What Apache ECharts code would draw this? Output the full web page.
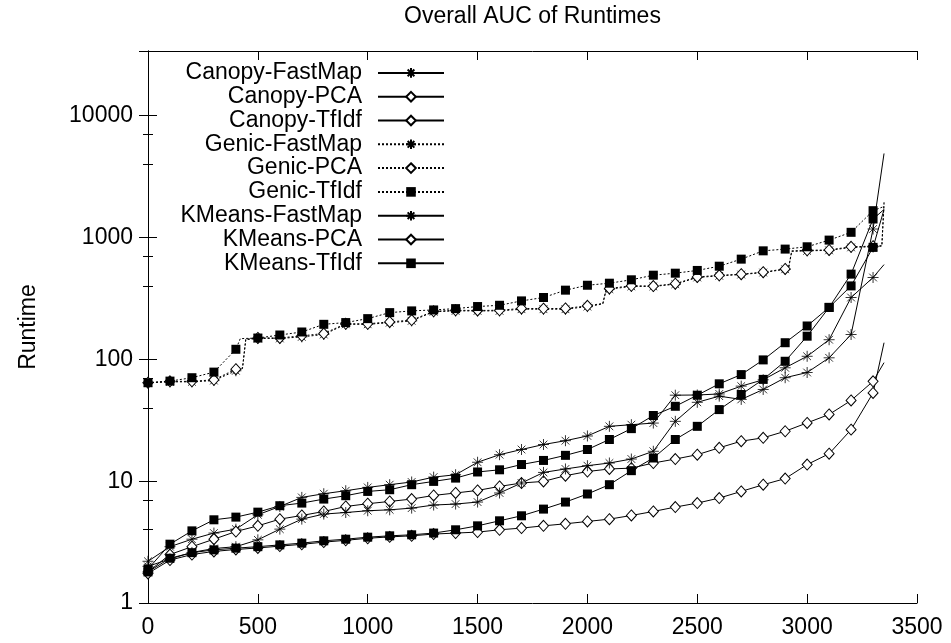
<!DOCTYPE html>
<html>
<head>
<meta charset="utf-8">
<script src="https://cdn.jsdelivr.net/npm/echarts@6/dist/echarts.min.js"></script>
<style>
  html, body { margin: 0; padding: 0; background: #fff; }
  #chart { width: 951px; height: 643px; }
</style>
</head>
<body>
<div id="chart"></div>
<script>
// sample positions: a marker every 100 runs, last entry is the end of the curve
const xs = [0, 100, 200, 300, 400, 500, 600, 700, 800, 900, 1000, 1100, 1200, 1300, 1400, 1500, 1600,
  1700, 1800, 1900, 2000, 2100, 2200, 2300, 2400, 2500, 2600, 2700, 2800, 2900, 3000, 3100, 3200, 3300, 3350]

const canopyFastMap = [2.2, 2.9, 3.34, 3.75, 4.04, 5.3, 6.2, 7.36, 7.89, 8.35, 8.89, 9.36, 9.85, 10.8, 11.3, 14.3, 16.5,
  18.2, 20, 21.5, 23.5, 28.2, 29.1, 30, 50.8, 51, 52, 60.3, 68, 85.3, 106, 145, 322, 470, 600]
const canopyPCA = [1.8, 2.5, 2.9, 3.34, 3.86, 4.3, 4.88, 5.23, 5.64, 6.2, 6.53, 6.82, 7.13, 7.64, 8.0, 8.4, 9.06,
  9.66, 9.96, 11.1, 12.0, 12.6, 12.8, 14.1, 15.2, 16.5, 18.8, 21.3, 22.7, 25.7, 30.1, 35.3, 46, 66, 94]
const canopyTfIdf = [1.9, 3.04, 3.91, 4.82, 5.07, 5.57, 6.29, 6.61, 7.13, 7.6, 8.24, 8.51, 9.36, 9.96, 10.6, 11.9, 12.4,
  13.7, 14.8, 16.3, 18.2, 22, 27, 34.6, 41.2, 50.8, 63, 75, 99, 137, 188, 267, 501, 1420, 1700]
const genicFastMap = [64.3, 65.4, 65.4, 67, 80.6, 148.5, 148.5, 153, 160, 194, 194, 200, 207, 246, 250, 250, 250,
  258, 258, 258, 271, 377, 397, 397, 414, 470, 485, 497, 516, 549, 778, 785, 830, 840, 1900]
const genicPCA = [64.3, 66, 66, 68, 83, 150, 150, 156, 163, 196, 196, 203, 210, 248, 253, 252, 253,
  262, 261, 262, 275, 382, 402, 400, 418, 475, 490, 500, 520, 553, 785, 792, 840, 850, 1950]
const genicTfIdf = [64.3, 66.3, 70.7, 78.6, 121, 149.7, 158.5, 167.8, 194, 200.5, 216, 242, 250, 254.6, 261, 271.5, 278,
  302, 322, 370, 406, 422, 450, 491, 510, 537, 582, 665, 778, 804, 840, 953, 1104, 1662, 1800]
const kmeansFastMap = [2.0, 2.3, 2.6, 2.8, 2.9, 3.3, 4.04, 4.88, 5.37, 5.53, 5.72, 5.82, 6.01, 6.37, 6.49, 6.74, 8.0,
  9.66, 11.8, 12.6, 13.4, 14.1, 15.2, 17.6, 31, 44.4, 49.9, 46.9, 56.6, 70.7, 78, 103, 160, 1175, 4900]
const kmeansPCA = [1.75, 2.25, 2.5, 2.65, 2.75, 2.83, 2.93, 3.03, 3.16, 3.27, 3.4, 3.49, 3.56, 3.68, 3.75, 3.82, 3.99,
  4.12, 4.3, 4.47, 4.67, 4.88, 5.23, 5.64, 6.13, 6.61, 7.27, 8.24, 9.35, 10.5, 13.7, 16.8, 26.5, 53, 137]
const kmeansTfIdf = [1.8, 2.33, 2.59, 2.73, 2.82, 2.9, 3.0, 3.1, 3.24, 3.34, 3.47, 3.56, 3.63, 3.75, 3.99, 4.3, 4.73,
  5.2, 5.9, 6.74, 7.85, 9.36, 12.2, 15.5, 22, 28.2, 38.7, 51.5, 68.5, 96.5, 155, 267, 401, 830, 1700]

// steps in the curves between two markers (no marker drawn there)
const genicSteps = [[430, 84], [445, 145], [2070, 285], [2085, 370], [2915, 555], [2930, 770], [3340, 850]]
const genicTfIdfSteps = [[420, 148]]

const FONT = '"Liberation Sans", Arial, Helvetica, sans-serif'
const STAR = 'path://M5 0L5 10M0 5L10 5M1.5 1.5L8.5 8.5M1.5 8.5L8.5 1.5'

const markers = {
  star: { symbol: STAR, symbolSize: 11, itemStyle: { color: '#000', borderColor: '#000', borderWidth: 0.8 } },
  diamond: { symbol: 'diamond', symbolSize: [10, 11], itemStyle: { color: '#fff', borderColor: '#000', borderWidth: 1 } },
  box: { symbol: 'rect', symbolSize: 9, itemStyle: { color: '#000', borderColor: '#000', borderWidth: 0 } }
}

function points (ys, extra) {
  let pts = xs.map((x, i) => [x, ys[i]]).concat(extra || [])
  pts.sort((a, b) => a[0] - b[0])
  return pts
}

// plotMarker lets a series show another symbol on the curve than in the key
function makeSeries (name, ys, marker, dotted, extra, plotMarker) {
  let m = markers[marker]
  let data = points(ys, extra).map(p => {
    let onMarker = p[0] % 100 === 0 && p[0] <= 3300
    if (!onMarker) return { value: p, symbol: 'none' }
    if (plotMarker) {
      let pm = markers[plotMarker]
      return { value: p, symbol: pm.symbol, symbolSize: pm.symbolSize, itemStyle: pm.itemStyle }
    }
    return { value: p }
  })
  return {
    name: name,
    type: 'line',
    data: data,
    symbol: m.symbol,
    symbolSize: m.symbolSize,
    showSymbol: true,
    itemStyle: m.itemStyle,
    lineStyle: { color: '#000', width: 1, type: dotted ? [2, 2] : 'solid' },
    emphasis: { disabled: true },
    z: 2
  }
}

const series = [
  makeSeries('Canopy-FastMap', canopyFastMap, 'star', false),
  makeSeries('Canopy-PCA', canopyPCA, 'diamond', false),
  makeSeries('Canopy-TfIdf', canopyTfIdf, 'diamond', false, null, 'box'),
  makeSeries('Genic-FastMap', genicFastMap, 'star', true, genicSteps),
  makeSeries('Genic-PCA', genicPCA, 'diamond', true, genicSteps.map(p => [p[0], p[1] * 1.01])),
  makeSeries('Genic-TfIdf', genicTfIdf, 'box', true, genicTfIdfSteps),
  makeSeries('KMeans-FastMap', kmeansFastMap, 'star', false),
  makeSeries('KMeans-PCA', kmeansPCA, 'diamond', false),
  makeSeries('KMeans-TfIdf', kmeansTfIdf, 'box', false)
]

const axisLine = { show: true, lineStyle: { color: '#000', width: 1 } }
const tickInside = { show: true, inside: true, length: 9, lineStyle: { color: '#000', width: 1 } }
const labelStyle = { color: '#000', fontSize: 23, fontFamily: FONT, formatter: v => String(Math.round(v)) }

let chart = echarts.init(document.getElementById('chart'))
chart.setOption({
  animation: false,
  backgroundColor: '#fff',
  textStyle: { fontFamily: FONT },
  title: {
    text: 'Overall AUC of Runtimes',
    left: 404,
    top: 5,
    padding: 0,
    textStyle: { fontSize: 23, fontWeight: 'normal', color: '#000', fontFamily: FONT }
  },
  legend: {
    orient: 'vertical',
    align: 'right',
    right: 506,
    top: 61,
    padding: 0,
    itemGap: 0,
    itemWidth: 66,
    itemHeight: 12,
    selectedMode: false,
    textStyle: { fontSize: 23, color: '#000', fontFamily: FONT, lineHeight: 23.8, padding: [0, 11, 0, 0] },
    data: series.map(s => s.name)
  },
  grid: { left: 148, right: 34, top: 51, bottom: 40, containLabel: false },
  xAxis: [
    {
      type: 'value', position: 'bottom', min: 0, max: 3500, interval: 500,
      axisLine: axisLine, axisTick: tickInside, splitLine: { show: false },
      axisLabel: Object.assign({ margin: 13 }, labelStyle)
    },
    {
      type: 'value', position: 'top', min: 0, max: 3500, interval: 500,
      axisLine: axisLine, axisTick: tickInside, splitLine: { show: false },
      axisLabel: { show: false }
    }
  ],
  yAxis: [
    {
      type: 'log', logBase: 10, position: 'left', min: 1, max: 34000,
      name: 'Runtime', nameLocation: 'middle', nameGap: 108, nameRotate: 90,
      nameTextStyle: { fontSize: 23, color: '#000', fontFamily: FONT },
      axisLine: axisLine, axisTick: tickInside,
      minorTick: { show: true, splitNumber: 3, length: 5, lineStyle: { color: '#000' } },
      splitLine: { show: false }, minorSplitLine: { show: false },
      axisLabel: Object.assign({ margin: 15, showMaxLabel: false }, labelStyle)
    },
    {
      type: 'log', logBase: 10, position: 'right', min: 1, max: 34000,
      axisLine: axisLine, axisTick: tickInside,
      minorTick: { show: true, splitNumber: 3, length: 5, lineStyle: { color: '#000' } },
      splitLine: { show: false },
      axisLabel: { show: false }
    }
  ],
  series: series
})
</script>
</body>
</html>
